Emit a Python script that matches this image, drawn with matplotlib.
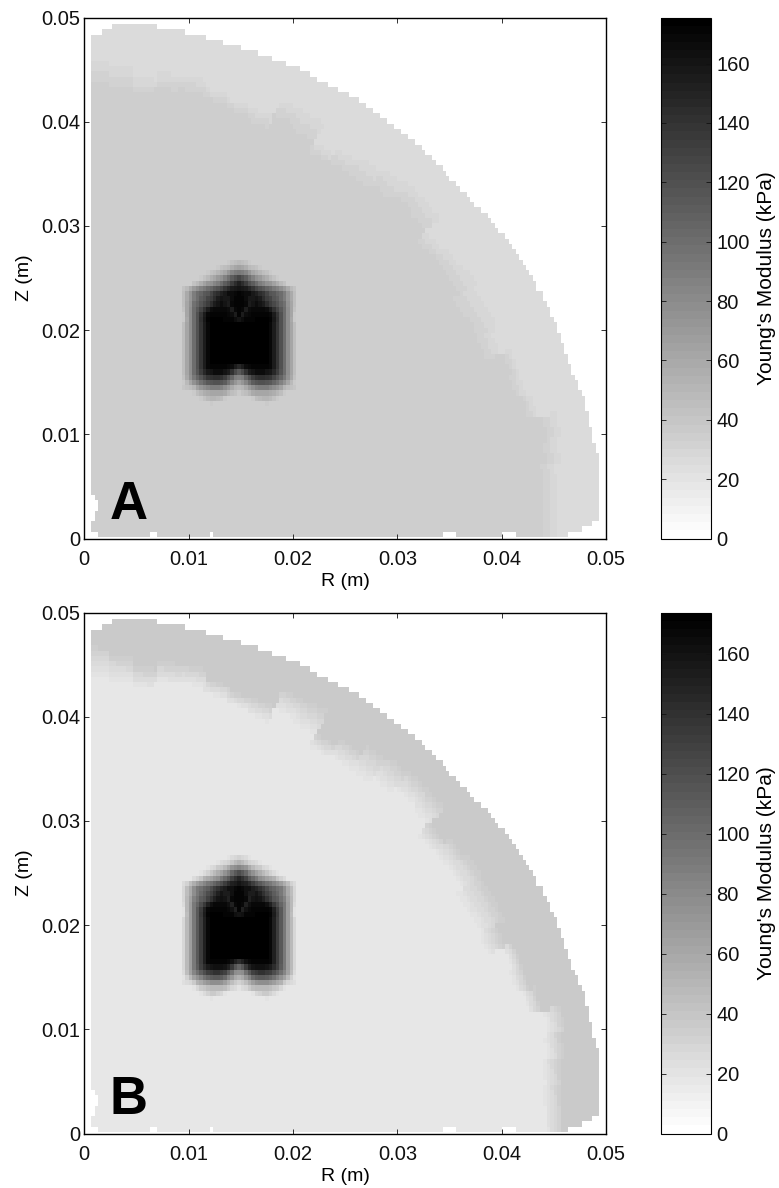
"""Young's modulus maps of a quarter section, panels A and B."""

import numpy as np
import matplotlib

matplotlib.use("Agg")
import matplotlib.pyplot as plt

plt.rcParams["font.family"] = ["Liberation Sans", "DejaVu Sans"]

FIG_W, FIG_H = 779, 1188

# cell counts of the image grid
n_cols = 150
n_rows = 98
cell_r = 0.05 / 150
cell_z = 0.000502
bottom_z = 0.00016

# first and last filled column per row, top row first
col_left = [8, 5] + [2] * 88 + [3, 4, 4, 3, 3, 2, 2, 4]
col_right = [
    21, 29, 35, 40, 45, 50, 54, 58, 62, 65, 67, 70, 73, 76, 79, 81, 83, 85, 87, 89,
    91, 93, 95, 97, 98, 100, 101, 103, 104, 105, 107, 108, 110, 111, 112, 114, 116,
    117, 118, 119, 121, 122, 123, 124, 125, 126, 127, 128, 129, 130, 130, 132, 132,
    133, 134, 134, 135, 136, 136, 137, 137, 138, 138, 139, 139, 140, 140, 141, 142,
    142, 143, 144, 144, 144, 145, 145, 145, 146, 146, 146, 147, 147,
    148, 148, 148, 148, 148, 148, 148, 148, 148, 148, 148, 148, 148, 146, 143, 139,
]
# empty cells in the lowest row
bottom_gaps = [19, 20, 36, 103, 104, 105, 106, 120, 121, 122, 123]

# layer transition, read per 3 degree sector from R axis to Z axis (mm)
band_start = [
    44.0, 44.0, 44.2, 44.8, 45.3, 44.0, 43.4, 43.8, 42.1, 42.2,
    42.0, 42.8, 42.9, 42.7, 44.0, 44.3, 43.6, 42.9, 43.0, 42.8,
    43.8, 44.4, 43.0, 43.4, 43.7, 44.0, 43.7, 42.9, 43.1, 43.5,
]
band_end = [
    46.0, 46.0, 46.2, 46.8, 47.4, 45.5, 45.0, 45.0, 44.4, 45.5,
    45.6, 45.7, 45.2, 44.6, 46.8, 46.9, 46.7, 46.4, 45.3, 44.5,
    47.0, 46.8, 45.0, 44.8, 45.2, 46.2, 46.1, 45.3, 46.3, 46.9,
]

# inclusion, grey levels for the centre column outwards, top row first
inclusion_grey = [
    [185, 190, 195, 200, 206, 206, 206, 206, 206, 206, 206, 206, 206, 206, 206, 206, 206],
    [160, 165, 175, 185, 190, 195, 200, 206, 206, 206, 206, 206, 206, 206, 206, 206, 206],
    [120, 125, 135, 150, 165, 175, 180, 190, 195, 200, 206, 206, 206, 206, 206, 206, 206],
    [70, 80, 95, 115, 130, 145, 155, 165, 175, 185, 195, 200, 206, 206, 206, 206, 206],
    [35, 45, 60, 80, 95, 110, 125, 135, 145, 150, 160, 175, 185, 195, 206, 206, 206],
    [20, 25, 30, 40, 55, 70, 80, 90, 100, 110, 120, 130, 140, 155, 170, 185, 195],
    [5, 10, 15, 15, 25, 35, 45, 55, 70, 85, 90, 100, 110, 125, 150, 170, 190],
    [5, 5, 15, 25, 25, 20, 30, 45, 60, 70, 85, 95, 110, 125, 150, 170, 190],
    [5, 5, 10, 30, 20, 15, 20, 30, 45, 60, 75, 85, 100, 115, 145, 165, 190],
    [5, 10, 30, 15, 10, 10, 10, 10, 15, 30, 50, 70, 90, 110, 140, 165, 195],
    [5, 30, 15, 10, 5, 5, 5, 5, 5, 10, 30, 55, 80, 110, 140, 165, 200],
    [20, 15, 5, 5, 5, 0, 0, 0, 0, 5, 25, 50, 80, 110, 140, 170, 200],
    [0, 0, 0, 0, 0, 0, 0, 0, 0, 10, 30, 55, 80, 110, 140, 165, 190],
    [0, 0, 0, 0, 0, 0, 0, 0, 0, 10, 30, 55, 80, 110, 140, 165, 190],
    [0, 0, 0, 0, 0, 0, 0, 0, 0, 10, 30, 55, 80, 110, 140, 165, 190],
    [0, 0, 0, 0, 0, 0, 0, 0, 0, 10, 30, 55, 80, 110, 140, 165, 190],
    [0, 0, 0, 0, 0, 0, 0, 0, 0, 10, 30, 55, 80, 110, 140, 165, 190],
    [0, 0, 0, 0, 0, 0, 0, 0, 0, 10, 30, 55, 80, 110, 140, 165, 190],
    [0, 0, 0, 0, 0, 0, 0, 0, 0, 10, 30, 55, 80, 110, 140, 165, 190],
    [0, 0, 0, 0, 0, 0, 0, 0, 0, 10, 30, 55, 80, 110, 140, 165, 190],
    [40, 30, 15, 10, 5, 5, 5, 5, 5, 10, 30, 55, 80, 110, 140, 165, 190],
    [90, 75, 50, 30, 20, 15, 15, 15, 20, 25, 40, 60, 85, 110, 140, 165, 190],
    [130, 125, 100, 80, 60, 50, 45, 45, 50, 55, 70, 85, 100, 120, 145, 170, 195],
    [160, 150, 135, 115, 95, 85, 80, 80, 85, 90, 100, 115, 130, 145, 165, 185, 200],
    [185, 180, 170, 155, 140, 130, 125, 125, 125, 135, 140, 150, 160, 180, 190, 195, 198],
    [200, 195, 190, 180, 170, 165, 165, 165, 165, 170, 175, 180, 190, 200, 206, 206, 206],
    [206, 206, 206, 206, 200, 190, 185, 180, 180, 185, 195, 200, 206, 206, 206, 206, 206],
    [206, 206, 206, 206, 206, 206, 206, 206, 200, 206, 206, 206, 206, 206, 206, 206, 206],
]
inclusion_row = 45
inclusion_col = 44

# panel values, kPa
panel_names = ["A", "B"]
inner_kpa = [33.6, 16.5]
outer_kpa = [24.7, 37.0]
peak_kpa = [175.5, 173.7]

axis_ticks = [0, 0.01, 0.02, 0.03, 0.04, 0.05]
axis_labels = ["0", "0.01", "0.02", "0.03", "0.04", "0.05"]
bar_ticks = [0, 20, 40, 60, 80, 100, 120, 140, 160]

# panel tops in pixels
panel_tops = [17.5, 612.5]
PANEL_H = 521
AX_L, AX_R = 84.3, 606
BAR_L, BAR_R = 661, 711


def axes_box(fig, left, right, top):
    return fig.add_axes([left / FIG_W, 1 - (top + PANEL_H) / FIG_H,
                         (right - left) / FIG_W, PANEL_H / FIG_H])


def build_field(inner, outer, peak):
    r_edges = np.arange(n_cols + 1) * cell_r
    z_edges = bottom_z + cell_z * np.arange(n_rows, -1, -1)
    r_mid = (r_edges[:-1] + r_edges[1:]) / 2
    z_mid = (z_edges[:-1] + z_edges[1:]) / 2
    rr, zz = np.meshgrid(r_mid, z_mid)

    radius = np.hypot(rr, zz) * 1000
    sector = np.clip((np.degrees(np.arctan2(zz, rr)) // 3).astype(int), 0, 29)
    start = np.array(band_start)[sector]
    end = np.array(band_end)[sector]
    frac = np.clip((radius - start) / (end - start), 0, 1)
    field = inner + frac * (outer - inner)

    grey = np.array(inclusion_grey, dtype=float)
    for i, row in enumerate(grey):
        for j, level in enumerate(row):
            amount = (206 - level) / 206
            for col in {inclusion_col - j, inclusion_col + j}:
                k = inclusion_row + i
                field[k, col] = inner + amount * (peak - inner)

    for k in range(n_rows):
        field[k, :col_left[k]] = np.nan
        field[k, col_right[k]:] = np.nan
    field[-1, bottom_gaps] = np.nan
    return r_edges, z_edges, field


fig = plt.figure(figsize=(FIG_W / 100, FIG_H / 100), dpi=100)
cmap = plt.get_cmap("gray_r", 64).copy()
cmap.set_bad("white")

for idx, name in enumerate(panel_names):
    top = panel_tops[idx]
    ax = axes_box(fig, AX_L, AX_R, top)
    cax = axes_box(fig, BAR_L, BAR_R, top)

    r_edges, z_edges, field = build_field(inner_kpa[idx], outer_kpa[idx], peak_kpa[idx])
    mesh = ax.pcolormesh(r_edges, z_edges, np.ma.masked_invalid(field), cmap=cmap,
                         vmin=0, vmax=peak_kpa[idx], shading="flat")
    ax.set_xlim(0, 0.05)
    ax.set_ylim(0, 0.05)
    ax.set_xticks(axis_ticks, axis_labels)
    ax.set_yticks(axis_ticks, axis_labels)
    ax.tick_params(axis="x", direction="in", top=True, length=3.6, width=0.6,
                   labelsize=14.5, pad=8, colors="#111111")
    ax.tick_params(axis="y", direction="in", right=True, length=3.6, width=0.6,
                   labelsize=14.5, pad=3, colors="#111111")
    ax.set_xlabel("R (m)", fontsize=14)
    ax.set_ylabel("Z (m)", fontsize=14)
    ax.xaxis.set_label_coords(0.5, -0.067)
    ax.yaxis.set_label_coords(-0.098, 0.5)
    ax.text(0.0024, 0.0019, name, fontsize=38, fontweight="bold", color="black",
            ha="left", va="baseline")
    for spine in ax.spines.values():
        spine.set_linewidth(1.0)

    bar = fig.colorbar(mesh, cax=cax)
    bar.set_ticks(bar_ticks)
    bar.ax.tick_params(direction="in", left=True, right=True, length=3.6, width=0.6,
                       labelsize=14.5, pad=4, colors="#111111")
    bar.outline.set_linewidth(0.8)
    bar.set_label("Young's Modulus (kPa)", fontsize=15)
    bar.ax.yaxis.set_label_coords(1.92, 0.5)

fig.savefig("out.png", dpi=100)
plt.close(fig)
